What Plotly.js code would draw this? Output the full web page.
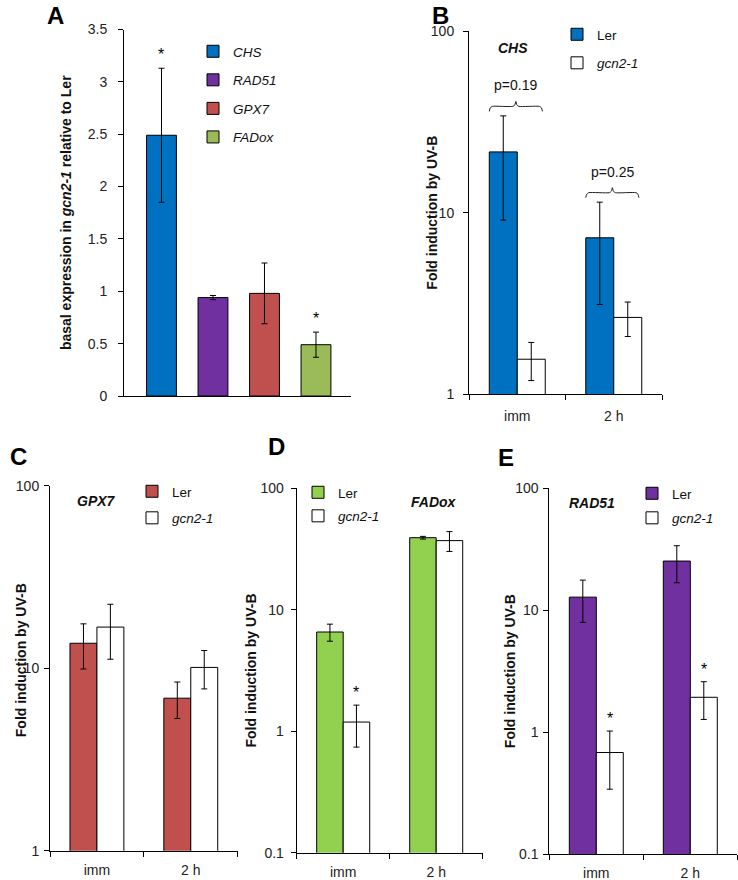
<!DOCTYPE html>
<html>
<head>
<meta charset="utf-8">
<script src="https://cdn.plot.ly/plotly-3.0.1.min.js"></script>
<style>html,body{margin:0;padding:0;background:#fff;}#chart{width:738px;height:880px;}</style>
</head>
<body>
<div id="chart"></div>
<script>
// ---------- data ----------
const genesA = ['CHS', 'RAD51', 'GPX7', 'FADox'];
const basalA = [2.49, 0.94, 0.98, 0.49];
const basalSdA = [0.64, 0.02, 0.29, 0.12];
const basalSigA = [true, false, false, true];

const timepoints = ['imm', '2 h'];

const chsLer = [21.6, 7.27];
const chsLerSd = [12.5, 4.15];
const chsGcn = [1.56, 2.65];
const chsGcnSd = [0.37, 0.57];
const chsP = ['p=0.19', 'p=0.25'];

const gpxLer = [13.7, 6.85];
const gpxLerSd = [3.8, 1.55];
const gpxGcn = [16.8, 10.1];
const gpxGcnSd = [5.6, 2.4];

const fadLer = [6.56, 39.2];
const fadLerSd = [1.05, 1.0];
const fadGcn = [1.19, 37.1];
const fadGcnSd = [0.45, 6.9];
const fadGcnSig = [true, false];

const radLer = [12.8, 25.3];
const radLerSd = [4.85, 8.5];
const radGcn = [0.68, 1.93];
const radGcnSd = [0.34, 0.66];
const radGcnSig = [true, true];

const logTickVals = [0.1, 1, 10, 100];
const logTickText = ['0.1', '1', '10', '100'];

// ---------- styling / layout helpers ----------
const W = 738, H = 880;
const FONT = 'Liberation Sans, Arial, sans-serif';
const px = x => x / W;
const py = y => 1 - y / H;
const colorsA = ['#0070C0', '#7030A0', '#C0504D', '#9BBB59'];

const traces = [];
const annotations = [];
const layout = {
  width: W, height: H,
  margin: {l: 0, r: 0, t: 0, b: 0},
  paper_bgcolor: '#fff', plot_bgcolor: 'rgba(0,0,0,0)',
  barmode: 'overlay',
  showlegend: true,
  hovermode: false,
  font: {family: FONT, color: '#222', size: 14}
};

function errStyle(arr) {
  return {type: 'data', array: arr, visible: true, color: '#000', thickness: 1, width: 3};
}
function legendBox(leftPx, topPx, gap) {
  return {x: px(leftPx), y: py(topPx), xanchor: 'left', yanchor: 'top',
    bgcolor: 'rgba(0,0,0,0)', borderwidth: 0, traceorder: 'grouped', tracegroupgap: gap,
    font: {family: FONT, size: 13.5, color: '#111'}};
}

// ---------- Panel A ----------
const barWA = 0.58;
genesA.forEach((g, i) => {
  traces.push({
    type: 'bar', x: [i], y: [basalA[i]], width: barWA,
    marker: {color: colorsA[i], line: {color: '#000', width: 1}},
    error_y: errStyle([basalSdA[i]]),
    name: '<i>' + g + '</i>', legend: 'legend', legendgroup: 'A' + g,
    xaxis: 'x', yaxis: 'y'
  });
  if (basalSigA[i]) {
    annotations.push({xref: 'x', yref: 'y', x: i, y: basalA[i] + basalSdA[i],
      text: '*', showarrow: false, yanchor: 'bottom', yshift: 3,
      font: {family: FONT, size: 16, color: '#000'}});
  }
});
layout.xaxis = {domain: [px(124), px(351)], anchor: 'y', range: [-0.728, 3.68],
  showticklabels: false, ticks: '', showline: true, linecolor: '#000', linewidth: 1,
  showgrid: false, zeroline: false, fixedrange: true};
layout.yaxis = {domain: [py(396), py(29.5)], anchor: 'x', range: [0, 3.5], dtick: 0.5,
  ticks: 'outside', ticklen: 5, tickcolor: '#000', showline: true, linecolor: '#000', linewidth: 1,
  showgrid: false, zeroline: false, ticklabelstandoff: 8,
  tickfont: {family: FONT, size: 14, color: '#222'},
  title: {text: '<b>basal expression in <i>gcn2-1</i> relative to Ler</b>', standoff: 12,
    font: {family: FONT, size: 14, color: '#111'}}};
layout.legend = legendBox(193, 36, 8);

// ---------- Panels B-E ----------
const panels = [
  {n: 2, gene: 'CHS', color: '#0070C0', ler: chsLer, lerSd: chsLerSd, gcn: chsGcn, gcnSd: chsGcnSd,
   sig: [false, false], p: chsP, xpx: [469, 662], ypx: [31, 394.3], yr: [0, 2], bw: 0.29,
   stand: 6, xstand: 9, legLeft: 557, legTop: 19, legGap: 8, genePos: [513, 47], titleX: 432, titleDy: 0},
  {n: 3, gene: 'GPX7', color: '#C0504D', ler: gpxLer, lerSd: gpxLerSd, gcn: gpxGcn, gcnSd: gpxGcnSd,
   sig: [false, false], p: null, xpx: [50, 237.7], ypx: [485.7, 850.7], yr: [0, 2], bw: 0.287,
   stand: 2, xstand: 6, legLeft: 132, legTop: 476, legGap: 6, genePos: [96.7, 500], titleX: 21, titleDy: -8},
  {n: 4, gene: 'FADox', color: '#92D050', ler: fadLer, lerSd: fadLerSd, gcn: fadGcn, gcnSd: fadGcnSd,
   sig: fadGcnSig, p: null, xpx: [296.7, 482.7], ypx: [488.3, 852.7], yr: [-1, 2], bw: 0.285,
   stand: 4, xstand: 6, legLeft: 298, legTop: 477, legGap: 3, genePos: [434, 501], titleX: 250, titleDy: 0},
  {n: 5, gene: 'RAD51', color: '#7030A0', ler: radLer, lerSd: radLerSd, gcn: radGcn, gcnSd: radGcnSd,
   sig: radGcnSig, p: null, xpx: [549.3, 737.3], ypx: [488.3, 854], yr: [-1, 2], bw: 0.287,
   stand: 2, xstand: 6, legLeft: 632, legTop: 478, legGap: 4, genePos: [592, 501.7], titleX: 510, titleDy: 0}
];

panels.forEach(P => {
  const xa = 'x' + P.n, ya = 'y' + P.n, leg = 'legend' + P.n;
  const xs = timepoints.map((t, i) => i);
  traces.push({
    type: 'bar', x: xs, y: P.ler, offset: -P.bw, width: P.bw,
    marker: {color: P.color, line: {color: '#000', width: 1}},
    error_y: errStyle(P.lerSd), name: 'Ler', legend: leg, legendgroup: P.gene + 'ler',
    xaxis: xa, yaxis: ya
  });
  traces.push({
    type: 'bar', x: xs, y: P.gcn, offset: 0, width: P.bw,
    marker: {color: '#fff', line: {color: '#000', width: 1}},
    error_y: errStyle(P.gcnSd), name: '<i>gcn2-1</i>', legend: leg, legendgroup: P.gene + 'gcn',
    xaxis: xa, yaxis: ya
  });
  const pxPerDecade = (P.ypx[1] - P.ypx[0]) / (P.yr[1] - P.yr[0]);
  const pxPerCat = (P.xpx[1] - P.xpx[0]) / 2;
  // stars
  P.sig.forEach((s, i) => {
    if (!s) return;
    annotations.push({xref: xa, yref: ya, x: i + P.bw / 2, y: Math.log10(P.gcn[i] + P.gcnSd[i]),
      text: '*', showarrow: false, yanchor: 'bottom', yshift: 2, font: {family: FONT, size: 16, color: '#000'}});
  });
  // p-value braces
  if (P.p) {
    P.p.forEach((txt, i) => {
      const top = Math.max(P.ler[i] + P.lerSd[i], P.gcn[i] + P.gcnSd[i]);
      const lev = Math.log10(top) + 9.5 / pxPerDecade;
      const xl = i - P.bw, xr = i + P.bw * 0.9, xm = (xl + xr) / 2;
      const dx = 1 / pxPerCat, dy = 1 / pxPerDecade;
      const pts = [[xl, 5], [xl + dx, 1.5], [xl + 3 * dx, 0], [xm - 3 * dx, 0], [xm - dx, -1.5], [xm, -5],
                   [xm + dx, -1.5], [xm + 3 * dx, 0], [xr - 3 * dx, 0], [xr - dx, 1.5], [xr, 5]];
      traces.push({type: 'scatter', mode: 'lines', xaxis: xa, yaxis: ya, showlegend: false, hoverinfo: 'skip',
        x: pts.map(p => p[0]), y: pts.map(p => Math.pow(10, lev - p[1] * dy)),
        line: {color: '#222', width: 1, shape: 'spline', smoothing: 0.6}});
      annotations.push({xref: xa, yref: ya, x: xm, y: lev, text: txt, showarrow: false,
        yanchor: 'bottom', yshift: 11, font: {family: FONT, size: 14, color: '#111'}});
    });
  }
  const tv = [], tt = [];
  logTickVals.forEach((v, k) => { const l = Math.log10(v); if (l >= P.yr[0] - 1e-9 && l <= P.yr[1] + 1e-9) { tv.push(v); tt.push(logTickText[k]); } });
  layout['xaxis' + P.n] = {domain: [px(P.xpx[0]), px(P.xpx[1])], anchor: ya, range: [-0.5, 1.5],
    tickmode: 'array', tickvals: xs, ticktext: timepoints, ticks: '', ticklabelstandoff: P.xstand,
    showline: true, linecolor: '#000', linewidth: 1, showgrid: false, zeroline: false,
    tickfont: {family: FONT, size: 14, color: '#222'},
    minor: {tick0: -0.5, dtick: 1, ticks: 'outside', ticklen: 5, tickcolor: '#000', showgrid: false}};
  layout['yaxis' + P.n] = {domain: [py(P.ypx[1]), py(P.ypx[0])], anchor: xa, type: 'log', range: P.yr,
    tickmode: 'array', tickvals: tv, ticktext: tt, ticks: 'outside', ticklen: 5, tickcolor: '#000',
    showline: true, linecolor: '#000', linewidth: 1, showgrid: false, zeroline: false,
    ticklabelstandoff: P.stand, tickfont: {family: FONT, size: 14, color: '#222'}};
  // axis title placed as rotated text close to the axis (as in the original figure)
  annotations.push({xref: 'paper', yref: 'paper', x: px(P.titleX),
    y: py((P.ypx[0] + P.ypx[1]) / 2 + P.titleDy), textangle: -90,
    text: '<b>Fold induction by UV-B</b>', showarrow: false, xanchor: 'center', yanchor: 'middle',
    font: {family: FONT, size: 14, color: '#111'}});
  layout[leg] = legendBox(P.legLeft, P.legTop, P.legGap);
  annotations.push({xref: 'paper', yref: 'paper', x: px(P.genePos[0]), y: py(P.genePos[1] + 1),
    text: '<b><i>' + P.gene + '</i></b>', showarrow: false, xanchor: 'center', yanchor: 'middle',
    font: {family: FONT, size: 14, color: '#111'}});
});

// panel letters (A and B hang from the top edge of the figure)
const panelLetters = [['A', 55, null], ['B', 440, null], ['C', 18.5, 459], ['D', 276.5, 449], ['E', 506, 460.5]];
panelLetters.forEach(([t, x, y]) => {
  const a = {xref: 'paper', yref: 'paper', x: px(x), text: '<b>' + t + '</b>',
    showarrow: false, xanchor: 'center', font: {family: FONT, size: 24, color: '#000'}};
  if (y === null) { a.y = 1; a.yanchor = 'top'; } else { a.y = py(y - 3); a.yanchor = 'middle'; }
  annotations.push(a);
});
layout.annotations = annotations;

Plotly.newPlot('chart', traces, layout, {staticPlot: true, displayModeBar: false});
</script>
</body>
</html>
